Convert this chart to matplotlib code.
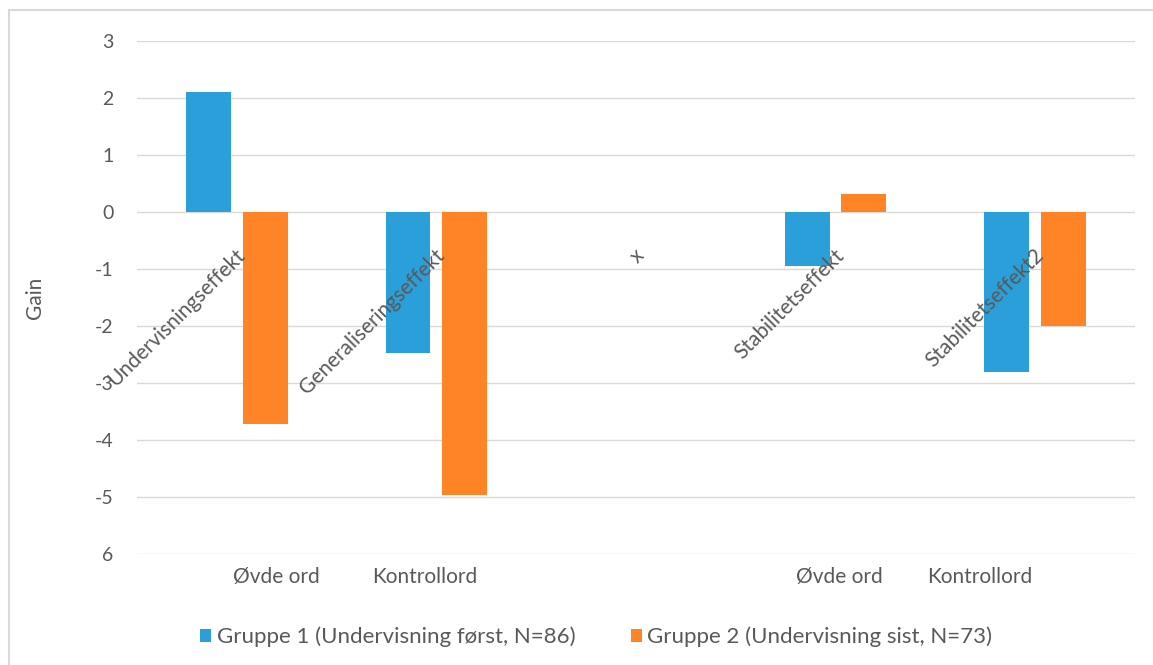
import numpy as np
import matplotlib
matplotlib.use("Agg")
import matplotlib.pyplot as plt
from matplotlib.patches import Rectangle
from matplotlib.transforms import blended_transform_factory

plt.rcParams['font.family'] = ['Lato', 'DejaVu Sans']

# data
effects = ["Undervisningseffekt", "Generaliseringseffekt", "x",
           "Stabilitetseffekt", "Stabilitetseffekt2"]
gruppe1 = [2.1, -2.47, np.nan, -0.95, -2.8]
gruppe2 = [-3.72, -4.96, np.nan, 0.32, -2.0]
series_names = ["Gruppe 1 (Undervisning først, N=86)",
                "Gruppe 2 (Undervisning sist, N=73)"]
y_ticks = [3, 2, 1, 0, -1, -2, -3, -4, -5, -6]
y_ticklabels = ["3", "2", "1", "0", "-1", "-2", "-3", "-4", "-5", "6"]
word_labels = ["Øvde ord", "Kontrollord", "Øvde ord", "Kontrollord"]
word_label_x = [0.2, 0.94, 3.02, 3.72]

blue = "#2A9FD9"
orange = "#FF8426"
grey_text = "#595959"
grid_col = "#D9D9D9"

fig = plt.figure(figsize=(11.53, 6.65), dpi=100)
ax = fig.add_axes([0.1188, 0.1669, 0.8656, 0.7714])

x = np.arange(len(effects))
w = 0.225
ax.bar(x - 0.142, gruppe1, w, color=blue, label=series_names[0], zorder=3)
ax.bar(x + 0.142, gruppe2, w, color=orange, label=series_names[1], zorder=3)

ax.set_xlim(-0.5, len(effects) - 0.5)
ax.set_ylim(-6, 3)
ax.set_yticks(y_ticks)
ax.set_yticklabels(y_ticklabels, fontsize=14, color=grey_text)
ax.tick_params(axis='y', length=0, pad=17)
ax.set_xticks([])
ax.grid(axis='y', color=grid_col, linewidth=1, zorder=0)
for s in ax.spines.values():
    s.set_visible(False)

ax.set_ylabel("Gain", fontsize=15, color=grey_text, labelpad=36)

# category names sit on the zero line, rotated
for i, name in enumerate(effects):
    ax.text(i - 0.01, -0.58, name, rotation=45, rotation_mode='anchor',
            ha='right', va='top', fontsize=15, color=grey_text, zorder=4)

# word-type labels under the plot
trans = blended_transform_factory(ax.transData, ax.transAxes)
for xp, lab in zip(word_label_x, word_labels):
    ax.text(xp, -0.045, lab, transform=trans, ha='center', va='center',
            fontsize=15, color=grey_text)

fig.legend(loc='center', bbox_to_anchor=(0.517, 0.042), ncol=2,
           frameon=False, fontsize=16, handlelength=0.5, handleheight=0.5,
           handletextpad=0.25, columnspacing=2.5, labelcolor=grey_text)

# chart area outline
fig.add_artist(Rectangle((9 / 1153, -0.1), 1.2, 1.1 - 10 / 665,
                         transform=fig.transFigure, fill=False,
                         ec=grid_col, lw=1.5))

fig.savefig("out.png", dpi=100)
